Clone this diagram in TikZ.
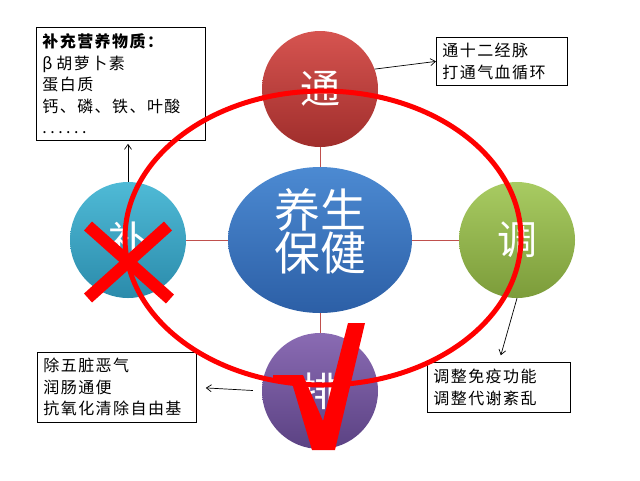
\documentclass[tikz,border=0pt]{standalone}
\usepackage{fontspec}
\setmainfont{Noto Sans CJK SC}
\newfontfamily\boxfont[LetterSpace=9]{Noto Sans CJK SC}
\usetikzlibrary{arrows.meta,shapes.geometric,calc}
\definecolor{tongTop}{HTML}{D65450}
\definecolor{tongBot}{HTML}{A02E2C}
\definecolor{coreTop}{HTML}{4C8AD2}
\definecolor{coreBot}{HTML}{2C5FA6}
\definecolor{tiaoTop}{HTML}{A8CB62}
\definecolor{tiaoBot}{HTML}{7C9C3A}
\definecolor{buTop}{HTML}{4FBAD6}
\definecolor{buBot}{HTML}{2B8BAB}
\definecolor{paiTop}{HTML}{8A6BB3}
\definecolor{paiBot}{HTML}{5B4283}
\definecolor{linkred}{HTML}{C0504D}
\begin{document}
\begin{tikzpicture}[x=1pt,y=-1pt,
  ball/.style={circle, minimum size=116pt, inner sep=0pt, text=white,
    font=\fontsize{40}{40}\selectfont},
  link/.style={draw=linkred, line width=0.9pt},
  infobox/.style={draw=black, line width=0.8pt, fill=white, align=left,
    anchor=north west, inner xsep=6pt, inner ysep=0pt,
    font=\boxfont\fontsize{16}{21.5}\selectfont},
  arr/.style={draw=black, line width=0.7pt, -{Straight Barb[length=5pt,width=7pt]}}]
\useasboundingbox (0,0) rectangle (640,480);
\fill[white] (0,0) rectangle (640,480);

% circles
\node[ellipse, minimum width=184pt, minimum height=146pt, inner sep=0pt,
  top color=coreTop, bottom color=coreBot] (core) at (320,240) {};
\node[ball, top color=tongTop, bottom color=tongBot] (tong) at (320,89) {通};
\node[ball, top color=tiaoTop, bottom color=tiaoBot] (tiao) at (517,240) {调};
\node[ball, top color=buTop, bottom color=buBot] (bu) at (128,240) {补};
\node[ball, top color=paiTop, bottom color=paiBot] (pai) at (320,391) {排};
\node[text=white, align=center, font=\fontsize{46}{43}\selectfont] (coretext) at (320,231) {养生\\保健};

% links
\draw[link] (core) -- (tong);
\draw[link] (core) -- (tiao);
\draw[link] (core) -- (bu);
\draw[link] (core) -- (pai);

% boxes
\node[infobox, text width=157pt, minimum height=113pt] (b1) at (36,27)
  {{\bfseries 补充营养物质：}\\β\hspace{4pt}胡萝卜素\\蛋白质\\钙、磷、铁、叶酸\\.\hspace{3.5pt}.\hspace{3.5pt}.\hspace{3.5pt}.\hspace{3.5pt}.\hspace{3.5pt}.};
\node[infobox, text width=119pt, minimum height=48pt] (b2) at (436,37)
  {通十二经脉\\打通气血循环};
\node[infobox, text width=131pt, minimum height=50pt] (b3) at (427,362)
  {调整免疫功能\\调整代谢紊乱};
\node[infobox, text width=147pt, minimum height=70pt] (b4) at (37,352)
  {除五脏恶气\\润肠通便\\抗氧化清除自由基};

% arrows
\draw[arr] (tong.20) -- (b2.west);
\draw[arr, shorten >=3pt] (bu.north) -- (bu.north |- b1.south);
\draw[arr, shorten >=7pt] (tiao.south) -- (b3.north);
\draw[arr, shorten <=9pt, shorten >=9pt] (pai.west) -- (b4.east);

% red ring
\node[draw=red, line width=5pt, ellipse, minimum width=396pt, minimum height=294pt, inner sep=0pt] (ring) at (323,238) {};

% red cross
\draw[red, line width=12pt] (88,226) -- (170,299);
\draw[red, line width=12pt] (168,226) -- (88,298);

% red check
\fill[red] (273,375) -- (303,375) -- (323,421) -- (348,323) -- (365,323)
  -- (335,450) -- (312,450) -- (292,383) -- (273,382) -- cycle;
\end{tikzpicture}
\end{document}
